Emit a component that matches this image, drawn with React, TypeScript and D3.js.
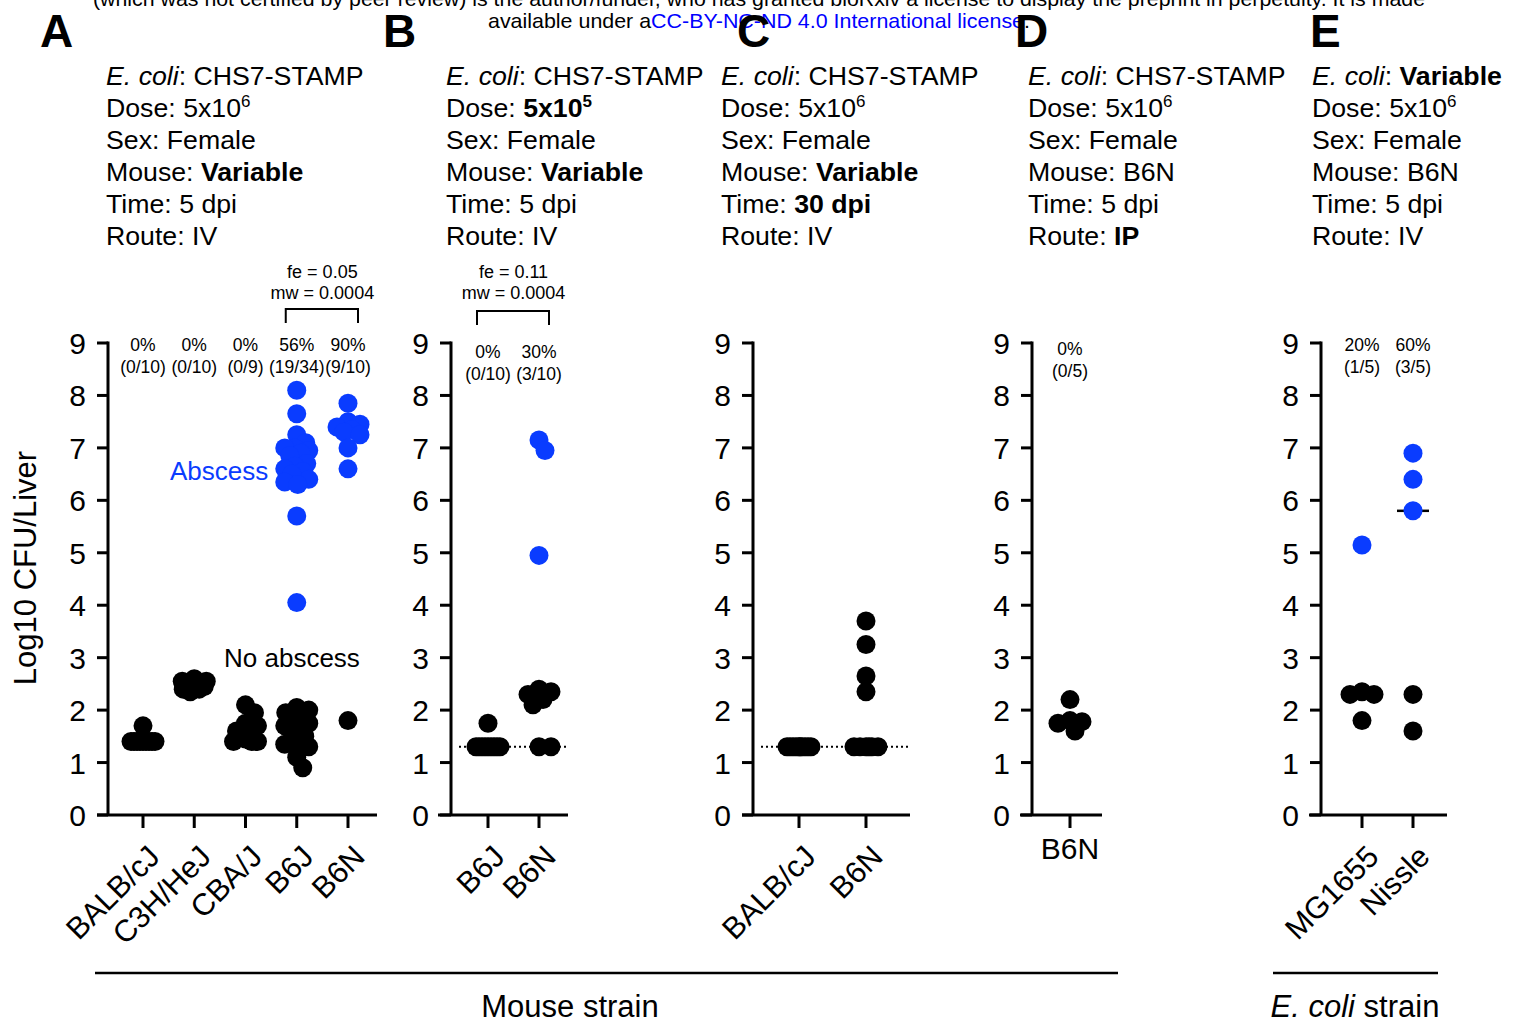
import React from "react";
import * as d3 from "d3";

// ---------------- DATA ----------------
const yTicks = [0, 1, 2, 3, 4, 5, 6, 7, 8, 9];

const strainsA = ["BALB/cJ", "C3H/HeJ", "CBA/J", "B6J", "B6N"];
const abscessA: number[][] = [
  [],
  [],
  [],
  [8.1, 7.65, 7.25, 7.1, 7.0, 7.0, 6.95, 6.9, 6.85, 6.7, 6.65, 6.6, 6.55, 6.5, 6.4, 6.35, 6.3, 5.7, 4.05],
  [7.85, 7.5, 7.45, 7.4, 7.35, 7.3, 7.25, 7.0, 6.6],
];
const noAbscessA: number[][] = [
  [1.7, 1.4, 1.4, 1.4, 1.4, 1.4, 1.4, 1.4, 1.4, 1.4],
  [2.6, 2.55, 2.55, 2.5, 2.5, 2.45, 2.45, 2.4, 2.4, 2.35],
  [2.1, 1.95, 1.75, 1.7, 1.6, 1.45, 1.4, 1.4, 1.4],
  [2.05, 2.0, 1.95, 1.85, 1.8, 1.75, 1.7, 1.7, 1.65, 1.5, 1.4, 1.35, 1.3, 1.1, 0.9],
  [1.8],
];
const medianHiddenA = ["B6J"];
const pctA = ["0%", "0%", "0%", "56%", "90%"];
const fracA = ["(0/10)", "(0/10)", "(0/9)", "(19/34)", "(9/10)"];
const statsA = ["fe = 0.05", "mw = 0.0004"];

const strainsB = ["B6J", "B6N"];
const abscessB: number[][] = [[], [7.15, 6.95, 4.95]];
const noAbscessB: number[][] = [
  [1.75, 1.3, 1.3, 1.3, 1.3, 1.3, 1.3, 1.3, 1.3, 1.3],
  [2.4, 2.35, 2.3, 2.2, 2.1, 1.3, 1.3],
];
const pctB = ["0%", "30%"];
const fracB = ["(0/10)", "(3/10)"];
const statsB = ["fe = 0.11", "mw = 0.0004"];

const strainsC = ["BALB/cJ", "B6N"];
const abscessC: number[][] = [[], []];
const noAbscessC: number[][] = [
  [1.3, 1.3, 1.3, 1.3, 1.3, 1.3, 1.3, 1.3, 1.3, 1.3],
  [3.7, 3.25, 2.65, 2.35, 1.3, 1.3, 1.3, 1.3, 1.3, 1.3],
];

const strainsD = ["B6N"];
const abscessD: number[][] = [[]];
const noAbscessD: number[][] = [[2.2, 1.8, 1.78, 1.75, 1.6]];
const pctD = ["0%"];
const fracD = ["(0/5)"];

const strainsE = ["MG1655", "Nissle"];
const abscessE: number[][] = [[5.15], [6.9, 6.4, 5.8]];
const noAbscessE: number[][] = [
  [2.35, 2.3, 2.3, 1.8],
  [2.3, 1.6],
];
const pctE = ["20%", "60%"];
const fracE = ["(1/5)", "(3/5)"];

const detectionLimit = 1.3;

// info text: [text, style]  n=normal i=italic b=bold s=superscript bs=bold superscript
type Seg = [string, string];
const infoA: Seg[][] = [
  [["E. coli", "i"], [": CHS7-STAMP", "n"]],
  [["Dose: 5x10", "n"], ["6", "s"]],
  [["Sex: Female", "n"]],
  [["Mouse: ", "n"], ["Variable", "b"]],
  [["Time: 5 dpi", "n"]],
  [["Route: IV", "n"]],
];
const infoB: Seg[][] = [
  [["E. coli", "i"], [": CHS7-STAMP", "n"]],
  [["Dose: ", "n"], ["5x10", "b"], ["5", "bs"]],
  [["Sex: Female", "n"]],
  [["Mouse: ", "n"], ["Variable", "b"]],
  [["Time: 5 dpi", "n"]],
  [["Route: IV", "n"]],
];
const infoC: Seg[][] = [
  [["E. coli", "i"], [": CHS7-STAMP", "n"]],
  [["Dose: 5x10", "n"], ["6", "s"]],
  [["Sex: Female", "n"]],
  [["Mouse: ", "n"], ["Variable", "b"]],
  [["Time: ", "n"], ["30 dpi", "b"]],
  [["Route: IV", "n"]],
];
const infoD: Seg[][] = [
  [["E. coli", "i"], [": CHS7-STAMP", "n"]],
  [["Dose: 5x10", "n"], ["6", "s"]],
  [["Sex: Female", "n"]],
  [["Mouse: B6N", "n"]],
  [["Time: 5 dpi", "n"]],
  [["Route: ", "n"], ["IP", "b"]],
];
const infoE: Seg[][] = [
  [["E. coli", "i"], [": ", "n"], ["Variable", "b"]],
  [["Dose: 5x10", "n"], ["6", "s"]],
  [["Sex: Female", "n"]],
  [["Mouse: B6N", "n"]],
  [["Time: 5 dpi", "n"]],
  [["Route: IV", "n"]],
];

// ---------------- STYLE / LAYOUT ----------------
const FONT = "'Liberation Sans', Arial, Helvetica, sans-serif";
const BLUE = "#0a3cff";
const R = 9.5;
const Y0 = 815;
const Y9 = 343;
const INFO_FS = 26.7;

const yScale = d3.scaleLinear().domain([0, 9]).range([Y0, Y9]);

type PanelCfg = {
  letter: string;
  letterX: number;
  info: Seg[][];
  infoX: number;
  strains: string[];
  abscess: number[][];
  noAbscess: number[][];
  medianHidden?: string[];
  axisX: number;
  xStart: number;
  xEnd: number;
  range: [number, number];
  pct?: string[];
  frac?: string[];
  pctY?: number;
  stats?: string[];
  statsBracketY?: number;
  dotted?: boolean;
  rotated: boolean;
};

const panels: PanelCfg[] = [
  {
    letter: "A", letterX: 40, info: infoA, infoX: 106, strains: strainsA, abscess: abscessA, noAbscess: noAbscessA,
    medianHidden: medianHiddenA,
    axisX: 108, xStart: 97, xEnd: 377, range: [143, 348], pct: pctA, frac: fracA, pctY: 351, stats: statsA,
    statsBracketY: 309, rotated: true,
  },
  {
    letter: "B", letterX: 383, info: infoB, infoX: 446, strains: strainsB, abscess: abscessB, noAbscess: noAbscessB,
    axisX: 451, xStart: 438, xEnd: 568, range: [488, 539], pct: pctB, frac: fracB, pctY: 358, stats: statsB,
    statsBracketY: 311, dotted: true, rotated: true,
  },
  {
    letter: "C", letterX: 737, info: infoC, infoX: 721, strains: strainsC, abscess: abscessC, noAbscess: noAbscessC,
    axisX: 753, xStart: 742, xEnd: 910, range: [799, 866], dotted: true, rotated: true,
  },
  {
    letter: "D", letterX: 1015, info: infoD, infoX: 1028, strains: strainsD, abscess: abscessD, noAbscess: noAbscessD,
    axisX: 1032, xStart: 1020, xEnd: 1102, range: [1070, 1070], pct: pctD, frac: fracD, pctY: 355, rotated: false,
  },
  {
    letter: "E", letterX: 1310, info: infoE, infoX: 1312, strains: strainsE, abscess: abscessE, noAbscess: noAbscessE,
    axisX: 1321, xStart: 1309, xEnd: 1447, range: [1362, 1413], pct: pctE, frac: fracE, pctY: 351, rotated: true,
  },
];

type Pt = { v: number; color: string; dx: number; py: number };

function swarm(points: { v: number; color: string }[], maxHalf: number, minDist: number): Pt[] {
  const sorted = points
    .map((p) => ({ ...p, py: yScale(p.v), dx: 0 }))
    .sort((a, b) => b.v - a.v);
  const placed: Pt[] = [];
  const cands: number[] = [0];
  for (let k = 1; k <= maxHalf; k++) cands.push(k, -k);
  for (const p of sorted) {
    let best = 0;
    let bestScore = -Infinity;
    for (const c of cands) {
      let md = Infinity;
      for (const q of placed) {
        const d = Math.hypot(c - q.dx, p.py - q.py);
        if (d < md) md = d;
      }
      if (md >= minDist) {
        best = c;
        break;
      }
      if (md > bestScore) {
        bestScore = md;
        best = c;
      }
    }
    p.dx = best;
    placed.push(p);
  }
  return placed;
}

function InfoLine({ segs, x, y }: { segs: Seg[]; x: number; y: number }) {
  return (
    <text x={x} y={y} fontSize={INFO_FS} fontFamily={FONT} fill="#000">
      {segs.map(([t, s], i) => {
        const sup = s === "s" || s === "bs";
        return (
          <tspan
            key={i}
            fontStyle={s === "i" ? "italic" : "normal"}
            fontWeight={s === "b" || s === "bs" ? "bold" : "normal"}
            fontSize={sup ? 17 : INFO_FS}
            dy={sup ? -10 : 0}
          >
            {t}
          </tspan>
        );
      })}
    </text>
  );
}

function Panel({ cfg }: { cfg: PanelCfg }) {
  const x = d3.scalePoint<string>().domain(cfg.strains).range(cfg.range);
  const sw = 3;
  return (
    <g>
      <text x={cfg.letterX} y={47} fontSize={46} fontWeight="bold" fontFamily={FONT}>
        {cfg.letter}
      </text>
      {cfg.info.map((segs, i) => (
        <InfoLine key={i} segs={segs} x={cfg.infoX} y={85 + i * 32} />
      ))}

      {/* stats bracket */}
      {cfg.stats && (() => {
        const x1 = x(cfg.strains[cfg.strains.length - 2])!;
        const x2 = x(cfg.strains[cfg.strains.length - 1])!;
        const by = cfg.statsBracketY!;
        const cx = (x1 + x2) / 2;
        return (
          <g>
            <text x={cx} y={278} textAnchor="middle" fontSize={18} fontFamily={FONT}>{cfg.stats[0]}</text>
            <text x={cx} y={299} textAnchor="middle" fontSize={18} fontFamily={FONT}>{cfg.stats[1]}</text>
            <path
              d={`M${x1 - 11},${by + 14}V${by}H${x2 + 10}V${by + 14}`}
              fill="none"
              stroke="#000"
              strokeWidth={2}
            />
          </g>
        );
      })()}

      {/* percent labels */}
      {cfg.pct &&
        cfg.strains.map((s, i) => (
          <g key={s}>
            <text x={x(s)} y={cfg.pctY} textAnchor="middle" fontSize={17.5} fontFamily={FONT}>
              {cfg.pct![i]}
            </text>
            <text x={x(s)} y={cfg.pctY! + 22} textAnchor="middle" fontSize={17.5} fontFamily={FONT}>
              {cfg.frac![i]}
            </text>
          </g>
        ))}

      {/* y axis */}
      <line x1={cfg.axisX} x2={cfg.axisX} y1={Y9 - 1.5} y2={Y0} stroke="#000" strokeWidth={sw} />
      {yTicks.map((t) => (
        <g key={t}>
          <line x1={cfg.axisX - 11} x2={cfg.axisX} y1={yScale(t)} y2={yScale(t)} stroke="#000" strokeWidth={sw} />
          <text x={cfg.axisX - 22} y={yScale(t) + 11} textAnchor="end" fontSize={30} fontFamily={FONT}>
            {t}
          </text>
        </g>
      ))}
      {/* x axis */}
      <line x1={cfg.xStart} x2={cfg.xEnd} y1={Y0} y2={Y0} stroke="#000" strokeWidth={sw} />
      {cfg.strains.map((s) => (
        <line key={s} x1={x(s)} x2={x(s)} y1={Y0} y2={Y0 + 13} stroke="#000" strokeWidth={sw} />
      ))}
      {cfg.strains.map((s) =>
        cfg.rotated ? (
          <text
            key={s}
            transform={`translate(${x(s)! + 3},${Y0 + 28}) rotate(-45)`}
            textAnchor="end"
            dy="0.72em"
            fontSize={30.5}
            fontFamily={FONT}
          >
            {s}
          </text>
        ) : (
          <text key={s} x={x(s)} y={Y0 + 44} textAnchor="middle" fontSize={30} fontFamily={FONT}>
            {s}
          </text>
        )
      )}

      {/* detection limit */}
      {cfg.dotted && (
        <line
          x1={cfg.axisX + 8}
          x2={cfg.xEnd}
          y1={yScale(detectionLimit)}
          y2={yScale(detectionLimit)}
          stroke="#000"
          strokeWidth={2}
          strokeDasharray="2,3"
        />
      )}

      {/* medians */}
      {cfg.strains.map((s, i) => {
        if (cfg.medianHidden && cfg.medianHidden.includes(s)) return null;
        const all = [...cfg.abscess[i], ...cfg.noAbscess[i]];
        const m = d3.median(all)!;
        return (
          <line
            key={s}
            x1={x(s)! - 16}
            x2={x(s)! + 16}
            y1={yScale(m)}
            y2={yScale(m)}
            stroke="#000"
            strokeWidth={2.5}
          />
        );
      })}

      {/* dots */}
      {cfg.strains.map((s, i) => {
        const pts = swarm(
          [
            ...cfg.abscess[i].map((v) => ({ v, color: BLUE })),
            ...cfg.noAbscess[i].map((v) => ({ v, color: "#000" })),
          ],
          12,
          R * 1.25
        );
        return (
          <g key={s}>
            {pts.map((p, j) => (
              <circle key={j} cx={x(s)! + p.dx} cy={p.py} r={R} fill={p.color} />
            ))}
          </g>
        );
      })}
    </g>
  );
}

export default function App() {
  return (
    <svg
      width={1520}
      height={1025}
      style={{ position: "absolute", left: 0, top: 0, background: "#fff" }}
      fontFamily={FONT}
    >
      <rect width={1520} height={1025} fill="#fff" />
      {/* bioRxiv header */}
      <text x={759} y={6} textAnchor="middle" fontSize={21} fontFamily={FONT} textLength={1332} lengthAdjust="spacingAndGlyphs">
        (which was not certified by peer review) is the author/funder, who has granted bioRxiv a license to display the preprint in perpetuity. It is made
      </text>
      <text x={759} y={28} textAnchor="middle" fontSize={21} fontFamily={FONT} textLength={542} lengthAdjust="spacingAndGlyphs">
        available under a<tspan fill="#0000ff">CC-BY-NC-ND 4.0 International license</tspan>.
      </text>

      {/* y title */}
      <text transform="translate(36,568) rotate(-90)" textAnchor="middle" fontSize={31} fontFamily={FONT}>
        Log10 CFU/Liver
      </text>

      {panels.map((p) => (
        <Panel key={p.letter} cfg={p} />
      ))}

      {/* group labels */}
      <text x={170} y={480} fontSize={26} fill={BLUE} fontFamily={FONT}>Abscess</text>
      <text x={224} y={667} fontSize={26} fill="#000" fontFamily={FONT}>No abscess</text>

      {/* bottom axis groups */}
      <line x1={95} x2={1118} y1={973} y2={973} stroke="#000" strokeWidth={2.5} />
      <text x={570} y={1017} textAnchor="middle" fontSize={31} fontFamily={FONT}>Mouse strain</text>
      <line x1={1273} x2={1438} y1={973} y2={973} stroke="#000" strokeWidth={2.5} />
      <text x={1355} y={1017} textAnchor="middle" fontSize={31} fontFamily={FONT}>
        <tspan fontStyle="italic">E. coli</tspan> strain
      </text>
    </svg>
  );
}
